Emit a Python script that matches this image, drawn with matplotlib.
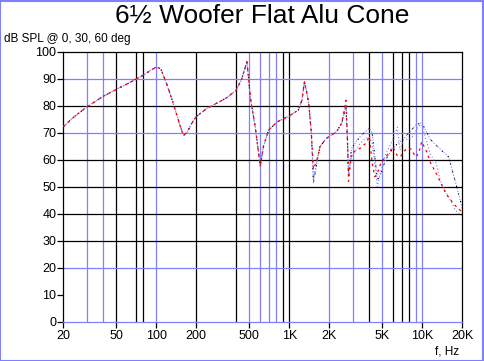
import matplotlib
matplotlib.use("Agg")
import matplotlib.pyplot as plt
import numpy as np

plt.rcParams['font.family'] = ['Liberation Sans', 'DejaVu Sans']

# %% data
f_low = [20, 23, 25, 30, 40, 50, 60, 70, 80, 90, 100, 108, 120, 134, 150, 160, 170,
         185, 200, 240, 300, 340, 400, 440, 480, 495, 510, 555, 597, 605, 640, 700,
         810, 1000, 1170, 1245, 1300, 1340]
spl_low = [72.2, 75, 76.5, 79.5, 83.5, 86, 88, 89.8, 91.3, 93, 94.3, 93.7, 88, 81, 73,
           69, 70, 73.5, 76, 79, 81.5, 83, 85.8, 90, 96.3, 90, 83, 72, 60, 57.5, 65, 71,
           74, 76.2, 78.4, 82, 88.9, 86]

f_hi = [1400, 1465, 1520, 1640, 1700, 1900, 2270, 2480, 2670, 2740, 2790, 2940, 3400,
        3750, 4000, 4200, 4400, 4600, 4900, 5300, 5700, 6000, 6500, 6800, 7200, 7600,
        8300, 8900, 9400, 9900, 10900, 11500, 12700, 13600, 15000, 15800, 17700, 20000]
spl_0deg = [81, 70, 51.5, 61, 64.8, 67.9, 70.4, 73.5, 79.5, 67, 55, 64.2, 68.5,
            70.5, 71.6, 70, 61, 52.5, 55, 60, 62.5, 64, 66, 66.7, 67.5, 69,
            71, 72.8, 73.3, 73.7, 69.8, 67.5, 65.4, 64, 62, 61, 52, 42]
spl_30deg = [81, 70, 53, 61, 64.8, 67.9, 70.4, 73.5, 80.5, 67, 54, 61, 66,
             67.9, 68.5, 66, 58, 50, 56, 62, 65, 67.3, 72, 63.6, 67.3, 67.5,
             68, 70.5, 72.5, 73, 66, 62, 58.7, 52.5, 48, 46.3, 41.4, 39]
spl_60deg = [81, 70, 56.5, 61, 64.8, 67.9, 70.4, 73.5, 82, 67, 52, 62.4, 64.2,
             66, 68.5, 58.7, 53.7, 55, 59, 61, 63, 64.8, 61.5, 61, 62.5, 64.2,
             63.9, 61, 62.4, 66.7, 62.5, 59, 55, 52, 47.6, 46, 43, 40.5]

xticks = [20, 50, 100, 200, 500, 1000, 2000, 5000, 10000, 20000]
xlabels = ['20', '50', '100', '200', '500', '1K', '2K', '5K', '10K', '20K']
vgrid_black = [50, 70, 80, 200, 400, 900, 1000, 4000, 6000, 7000, 8000]
vgrid_blue = [30, 40, 100, 500, 600, 700, 800, 2000, 3000, 5000, 9000, 10000]
hgrid_black = [30, 40, 50, 60, 80]
hgrid_blue = [20, 70, 90]

BLUE = '#8080ff'

# %% plot
fig = plt.figure(figsize=(4.84, 3.61), dpi=100)
ax = fig.add_axes([63.3 / 484, 1 - 321.7 / 361, 399 / 484, 270 / 361])

for v in vgrid_black:
    ax.axvline(v, color='black', lw=0.9, zorder=1)
for v in vgrid_blue:
    ax.axvline(v, color=BLUE, lw=0.9, zorder=1)
for h in hgrid_black:
    ax.axhline(h, color='black', lw=0.9, zorder=1)
for h in hgrid_blue:
    ax.axhline(h, color=BLUE, lw=0.9, zorder=1)

f0 = np.concatenate([f_low, f_hi])
ax.plot(f0, np.concatenate([spl_low, spl_30deg]), color=BLUE, lw=0.8,
        ls=(0, (1, 2)), zorder=3)
ax.plot(f0, np.concatenate([spl_low, spl_0deg]), color=BLUE, lw=0.8,
        ls=(0, (1, 1.5)), zorder=3)
ax.plot(f0, np.concatenate([spl_low, spl_0deg]), color='black', lw=0.8,
        ls=(0, (1, 6)), zorder=4)
ax.plot(f0, np.concatenate([spl_low, spl_60deg]), color='red', lw=0.9,
        ls=(0, (2, 3)), zorder=5)

ax.set_xscale('log')
ax.set_xlim(20, 20000)
ax.set_ylim(0, 100)
ax.set_xticks(xticks)
ax.set_xticklabels(xlabels)
ax.xaxis.set_minor_locator(matplotlib.ticker.NullLocator())
ax.set_yticks(range(0, 101, 10))
ax.tick_params(axis='both', labelsize=9, length=4, width=0.9, color='black', pad=2)
ax.tick_params(axis='y', pad=1)

for s in ['left', 'right', 'top']:
    ax.spines[s].set_color('black')
    ax.spines[s].set_linewidth(0.9)
ax.spines['bottom'].set_color(BLUE)
ax.spines['bottom'].set_linewidth(0.9)

fig.text(262 / 484, 1 - 16 / 361, '6½ Woofer Flat Alu Cone', ha='center', va='center',
         fontsize=19)
fig.text(4 / 484, 1 - 39 / 361, 'dB SPL @ 0, 30, 60 deg', ha='left', va='center',
         fontsize=8.5)
fig.text(459 / 484, 1 - 352 / 361, 'f, Hz', ha='right', va='center', fontsize=8.5)

# blue frame round the whole picture
fig.patches.append(plt.Rectangle((0.001, 0.001), 0.996, 0.996, transform=fig.transFigure,
                                 fill=False, edgecolor=BLUE, lw=1.5))

fig.savefig('out.png', dpi=100)
